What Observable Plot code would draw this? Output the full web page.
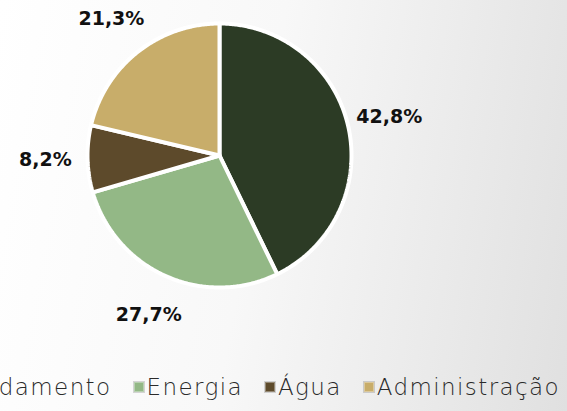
<!DOCTYPE html>
<html><head><meta charset="utf-8">
<script src="https://cdn.jsdelivr.net/npm/d3@7"></script>
<script src="https://cdn.jsdelivr.net/npm/@observablehq/plot@0.6"></script>
<style>
html,body{margin:0;padding:0;width:567px;height:411px;overflow:hidden;}
body{background:linear-gradient(100deg,#ffffff 0%,#f8f8f8 45%,#e0e0e0 100%);}
#chart svg{background:transparent;display:block;}
#legend{position:absolute;left:0;top:362px;width:567px;height:49px;box-sizing:border-box;padding-right:7px;
  display:flex;justify-content:flex-end;align-items:center;overflow:hidden;white-space:nowrap;
  font-family:"DejaVu Sans",sans-serif;font-weight:200;font-size:23px;letter-spacing:1.4px;color:#2a2a2a;}
#legend .item{display:flex;align-items:center;margin-left:22px;flex-shrink:0;}
#legend .sw{width:10px;height:10px;margin-right:3px;box-shadow:inset 0 0 0 1px rgba(255,255,255,0.35),0 0 0 1px rgba(0,0,0,0.15);}
</style></head><body>
<div id="chart"></div>
<div id="legend"></div>
<script>
const categories = ["Arrendamento", "Energia", "Água", "Administração"];
const shares = [42.8, 27.7, 8.2, 21.3];
const labels = ["42,8%", "27,7%", "8,2%", "21,3%"];
const colors = ["#2c3b25", "#93b886", "#5d4a2b", "#c8ad6a"];

const W = 567, H = 362, R = 132, cx = 219, cy = 155;
const pie = d3.pie().sort(null).value(d => d)(shares);

// slice outlines (angle clockwise from 12 o'clock)
const pts = [];
pie.forEach((p, i) => {
  const n = Math.max(8, Math.ceil((p.endAngle - p.startAngle) / 0.01));
  pts.push({cat: categories[i], x: 0, y: 0});
  for (let k = 0; k <= n; k++) {
    const a = p.startAngle + (p.endAngle - p.startAngle) * k / n;
    pts.push({cat: categories[i], x: Math.sin(a), y: Math.cos(a)});
  }
  pts.push({cat: categories[i], x: 0, y: 0});
});
const lab = pie.map((p, i) => {
  const a = (p.startAngle + p.endAngle) / 2;
  const k = 1.32;
  return {cat: categories[i], text: labels[i], x: k * Math.sin(a), y: k * Math.cos(a)};
});

const chart = Plot.plot({
  width: W, height: H, margin: 0,
  x: {domain: [-cx / R, (W - cx) / R], axis: null},
  y: {domain: [-(H - cy) / R, cy / R], axis: null},
  color: {domain: categories, range: colors},
  style: {background: "transparent"},
  marks: [
    Plot.line(pts, {x: "x", y: "y", z: "cat", fill: "cat", stroke: "white", strokeWidth: 4, strokeLinejoin: "miter", curve: "linear"}),
    Plot.text(lab, {x: "x", y: "y", text: "text", fill: "#111", fontSize: 19, fontWeight: "bold", fontFamily: "'DejaVu Sans', sans-serif", textAnchor: "middle"})
  ]
});
document.getElementById("chart").appendChild(chart);

const lg = document.getElementById("legend");
categories.forEach((c, i) => {
  const it = document.createElement("div");
  it.className = "item";
  const sw = document.createElement("span");
  sw.className = "sw";
  sw.style.background = colors[i];
  const t = document.createElement("span");
  t.textContent = c;
  it.appendChild(sw); it.appendChild(t);
  lg.appendChild(it);
});
</script>
</body></html>
